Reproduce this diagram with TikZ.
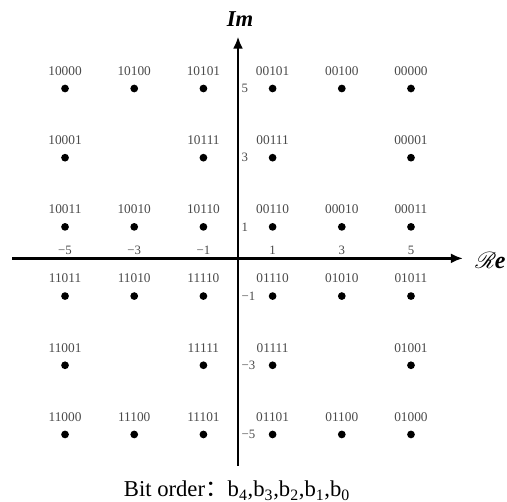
\documentclass[tikz,border=0pt]{standalone}
\usepackage{fontspec}
\setmainfont{Liberation Serif}
\newfontfamily\cjk{Noto Sans CJK SC}
\usepackage{mathrsfs}
\usepackage{tikz}
\usetikzlibrary{arrows.meta,positioning,calc}
\definecolor{BitGray}{HTML}{4A4A4A}

\begin{document}
\begin{tikzpicture}[
    x=25.95pt, y=25.95pt,
    dot/.style={
      circle,
      fill=black,
      inner sep=0pt,
      minimum size=5.8pt
    },
    bits/.style={
      text=BitGray,
      inner sep=0pt,
      font=\fontsize{10}{11}\selectfont
    },
    tick/.style={
      text=BitGray,
      inner sep=0pt,
      font=\fontsize{9.6}{10}\selectfont
    },
    axis/.style={
      -{Latex[length=9pt,width=7.5pt]},
      draw=black,
      line width=2pt
    }
  ]
    \useasboundingbox (-6.88,-6.95) rectangle (7.775,7.558);

    % axes
    \coordinate (reL) at (-6.53,0.09);
    \coordinate (reR) at (6.5,0.09);
    \coordinate (imB) at (0,-5.9);
    \coordinate (imT) at (0,6.5);
    \draw[axis] (reL) -- (reR);
    \draw[axis] (imB) -- (imT);
    \node[font=\bfseries\itshape\fontsize{17}{18}\selectfont] (imlab) at (0.06,7.0) {Im};
    \node[font=\bfseries\itshape\fontsize{18}{19}\selectfont, anchor=west, inner sep=0pt] (relab) at (6.85,0.02) {$\mathscr{R}$\kern-1pt e};

    % tick labels
    \foreach \t in {-5,-3,-1,1,3,5} {
      \node[tick] (xt\t) at (\t,0.33) {\ifnum\t<0 −\number-\t\else\t\fi};
      \node[tick, anchor=west] (yt\t) at (0.1,\t) {\ifnum\t<0 −\number-\t\else\t\fi};
    }

    % constellation points
    \foreach \i/\j/\b in {
        -5/5/10000, -3/5/10100, -1/5/10101, 1/5/00101, 3/5/00100, 5/5/00000,
        -5/3/10001, -1/3/10111, 1/3/00111, 5/3/00001,
        -5/1/10011, -3/1/10010, -1/1/10110, 1/1/00110, 3/1/00010, 5/1/00011,
        -5/-1/11011, -3/-1/11010, -1/-1/11110, 1/-1/01110, 3/-1/01010, 5/-1/01011,
        -5/-3/11001, -1/-3/11111, 1/-3/01111, 5/-3/01001,
        -5/-5/11000, -3/-5/11100, -1/-5/11101, 1/-5/01101, 3/-5/01100, 5/-5/01000} {
      \node[dot] (p\b) at (\i,\j) {};
      \node[bits, above=6.5pt of p\b] (l\b) {\b};
    }

    \node[font=\fontsize{17}{18}\selectfont] (order) at (-0.03,-6.62)
      {Bit order{\cjk ：}b\textsubscript{4},b\textsubscript{3},b\textsubscript{2},b\textsubscript{1},b\textsubscript{0}};
  \end{tikzpicture}
\end{document}
